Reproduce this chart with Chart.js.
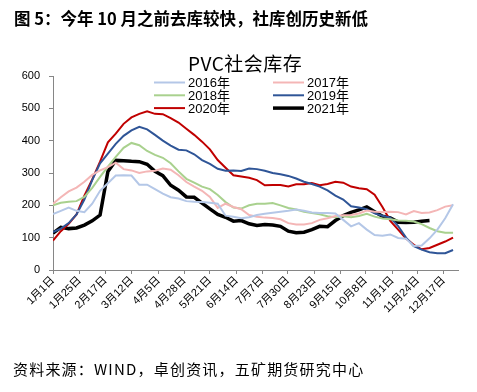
<!DOCTYPE html>
<html>
<head>
<meta charset="utf-8">
<script src="https://cdn.jsdelivr.net/npm/chart.js@4.4.0/dist/chart.umd.min.js"></script>
<style>
  html, body { margin: 0; padding: 0; background: #fff; }
  #wrap { position: relative; width: 477px; height: 392px; overflow: hidden; }
  #chart1 { position: absolute; left: 0; top: 0; }
  .txt { position: absolute; white-space: nowrap; color: #000; }
  #head { left: 14px; top: 6px; font: bold 16.5px "Noto Sans CJK SC", sans-serif; }
  #ttl { left: 188px; top: 49px; font: 19px "Noto Sans CJK SC", sans-serif; letter-spacing: 0.5px; }
  #foot { left: 13px; top: 358px; font: 15px "Noto Sans CJK SC", sans-serif; letter-spacing: 1.2px; }
</style>
</head>
<body>
<div id="wrap">
  <canvas id="chart1" width="477" height="392"></canvas>
  <div class="txt" id="head">图 5：今年 10 月之前去库较快，社库创历史新低</div>
  <div class="txt" id="ttl">PVC社会库存</div>
  <div class="txt" id="foot">资料来源：WIND，卓创资讯，五矿期货研究中心</div>
</div>
<script>
// ось X: дни года, подписи как в оригинале
const TICK_DAYS = [0, 24, 47, 71, 95, 118, 141, 165, 188, 211, 235, 258, 281, 305, 328, 351];
const TICK_LABELS = ['1月1日', '1月25日', '2月17日', '3月12日', '4月5日', '4月28日', '5月21日', '6月14日',
                     '7月7日', '7月30日', '8月23日', '9月15日', '10月8日', '11月1日', '11月24日', '12月17日'];
const WEEK_STEP = 7.05;   // данные понедельные

//社会库存, по неделям
const S2016 = [173,183,193,183,179,205,245,268,292,293, 292,264,264,250,236,225,221,213,211,210,
               208,205,168,165,160,163,170,174,177,180, 183,187,183,178,176,176,175,155,135,145,
               125,108,106,110,99,97,74,76,98,125, 160,203];
const S2017 = [205,225,243,255,273,294,308,318,332,312, 308,300,305,307,314,310,293,272,258,245,
               226,192,205,195,188,170,165,162,161,157, 145,141,141,145,155,160,167,169,170,175,
               184,180,179,180,179,172,182,176,178,185, 196,200];
const S2018 = [200,208,211,213,226,254,288,320,350,378, 393,386,368,356,347,330,305,282,270,258,
               250,232,210,193,190,200,205,205,207,200, 192,187,180,176,172,166,163,166,163,167,
               174,165,159,157,153,152,150,142,130,120, 115,115];
const S2019 = [117,128,145,172,218,278,330,360,390,415, 432,443,435,418,400,385,372,370,358,340,
               328,313,307,308,306,314,312,307,300,296, 291,283,273,266,258,246,230,218,197,193,
               188,175,168,162,136,100,74,63,55,52, 52,62];
const S2020 = [91,120,143,172,230,280,335,395,422,452, 472,483,491,483,482,470,456,437,418,397,
               373,340,316,293,289,285,278,262,263,263, 258,265,265,269,262,266,273,270,258,253,
               250,233,195,152,125,97,78,64,68,78, 88,100];
const S2021 = [114,132,128,130,139,152,170,305,339,338, 336,335,327,305,292,262,247,226,225,207,
               189,172,163,151,153,143,138,141,139,135, 120,115,117,125,135,134,153,168,178,186,
               195,180,166,161,148,147,148,151,153];

const AXIS_COLOR = '#868686';

function toPoints(arr) {
    return arr.map((v, i) => ({x: i * WEEK_STEP, y: v}));
}

function mkSet(label, arr, color, width) {
    return {label: label, data: toPoints(arr), borderColor: color, backgroundColor: color,
            borderWidth: width, pointRadius: 0, tension: 0, fill: false};
}

//Легенда внутри области графика, две колонки
const cornerLegend = {
    id: 'cornerLegend',
    afterDatasetsDraw(chart) {
        const ctx = chart.ctx;
        chart.data.datasets.forEach((ds, i) => {
            const col = i % 2, row = Math.floor(i / 2);
            const x0 = col ? 273 : 154;
            const y = 82.5 + row * 12.8;
            ctx.save();
            ctx.strokeStyle = ds.borderColor;
            ctx.lineWidth = ds.borderWidth;
            ctx.beginPath();
            ctx.moveTo(x0, y);
            ctx.lineTo(x0 + 31, y);
            ctx.stroke();
            ctx.fillStyle = '#000';
            ctx.font = '13px "Liberation Sans", "Noto Sans CJK SC"';
            ctx.textBaseline = 'middle';
            ctx.fillText(ds.label, x0 + 34, y + 1);
            ctx.restore();
        });
    }
};

new Chart('chart1', {
    type: 'line',
    data: {
        datasets: [
            mkSet('2016年', S2016, '#b4c7e7', 2),
            mkSet('2017年', S2017, '#f4b6b6', 2),
            mkSet('2018年', S2018, '#a9d18e', 2),
            mkSet('2019年', S2019, '#2f5597', 2),
            mkSet('2020年', S2020, '#c00000', 2),
            mkSet('2021年', S2021, '#000000', 3.5)
        ]
    },
    options: {
        responsive: false,
        animation: false,
        layout: {padding: {left: 0, right: 19, top: 76, bottom: 0}},
        plugins: {
            legend: {display: false},
            tooltip: {enabled: false}
        },
        scales: {
            x: {
                type: 'linear',
                min: 0,
                max: 364,
                afterBuildTicks: s => { s.ticks = TICK_DAYS.map(v => ({value: v})); },
                afterFit: s => { s.height = 122; },
                ticks: {
                    autoSkip: false,
                    maxRotation: 45,
                    minRotation: 45,
                    padding: 0,
                    color: '#000',
                    font: {size: 11, family: 'Liberation Sans, Noto Sans CJK SC'},
                    callback: (v, i) => TICK_LABELS[i]
                },
                grid: {drawOnChartArea: false, drawTicks: true, tickLength: 4, color: AXIS_COLOR},
                border: {color: AXIS_COLOR, width: 1}
            },
            y: {
                min: 0,
                max: 600,
                afterFit: s => { s.width = 53; },
                ticks: {
                    stepSize: 100,
                    padding: 9,
                    color: '#000',
                    font: {size: 11, family: 'Liberation Sans'}
                },
                grid: {drawOnChartArea: false, drawTicks: true, tickLength: 4, color: AXIS_COLOR},
                border: {color: AXIS_COLOR, width: 1}
            }
        }
    },
    plugins: [cornerLegend]
});
</script>
</body>
</html>
